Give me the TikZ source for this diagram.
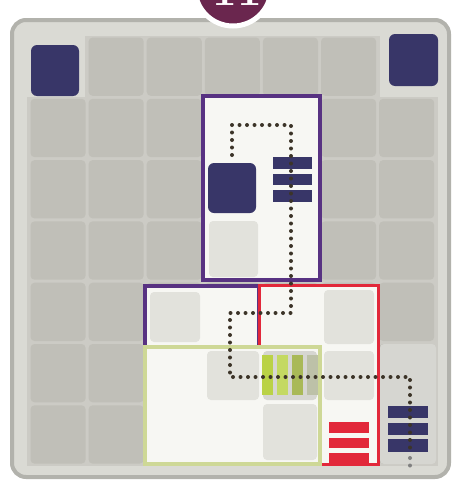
\documentclass[tikz,border=0pt]{standalone}
\usepackage{xcolor}
\definecolor{cardcol}{RGB}{218, 218, 212}
\definecolor{edgecol}{RGB}{178, 178, 172}
\definecolor{gapcol}{RGB}{204, 203, 197}
\definecolor{gridcol}{RGB}{192, 191, 184}
\definecolor{palecol}{RGB}{214, 214, 209}
\definecolor{navycol}{RGB}{56, 54, 104}
\definecolor{plumcol}{RGB}{88, 50, 130}
\definecolor{redcol}{RGB}{226, 40, 58}
\definecolor{limecol}{RGB}{186, 210, 70}
\definecolor{limeedge}{RGB}{206, 216, 150}
\definecolor{dotcol}{RGB}{60, 52, 40}
\definecolor{badgecol}{RGB}{106, 38, 78}
\definecolor{piececol}{RGB}{247, 247, 243}
\definecolor{ghostcol}{RGB}{226, 226, 220}
\usepackage{tikz}
\usetikzlibrary{positioning}

\begin{document}
\begin{tikzpicture}[x=1pt, y=-1pt,
  cell/.style={fill=gridcol, rounded corners=4pt},
  ghost/.style={fill=ghostcol, rounded corners=4pt},
  navybar/.style={fill=navycol},
  redbar/.style={fill=redcol},
  limebar/.style={fill=limecol},
  trail/.style={draw=dotcol, line width=4pt, line cap=round,
                dash pattern=on 0pt off 7.5pt}]
  \useasboundingbox (0,0) rectangle (461,490);
  \fill[white] (0,0) rectangle (461,490);

  \draw[fill=cardcol, draw=edgecol, line width=4pt, rounded corners=14pt]
        (12,20) rectangle (449,477);
  \fill[gapcol] (85,36) rectangle (380,97);
  \fill[gapcol] (27,97) rectangle (438,466);
  \foreach \i in {0,...,6}
    \foreach \j in {0,...,6} {
      \pgfmathsetmacro{\xa}{29+58.1*\i+1.5}
      \pgfmathsetmacro{\ya}{36+61.3*\j+1.5}
      \pgfmathsetmacro{\xb}{29+58.1*(\i+1)-1.5}
      \pgfmathsetmacro{\yb}{36+61.3*(\j+1)-1.5}
      \ifnum\j=0
        \ifnum\i=0\relax\else\ifnum\i=6\relax\else
          \fill[cell] (\xa,\ya) rectangle (\xb,\yb);
        \fi\fi
      \else
        \fill[cell] (\xa,\ya) rectangle (\xb,\yb);
      \fi
    }
  \fill[palecol, rounded corners=4pt] (380,344) rectangle (436,464);

  \fill[navycol, rounded corners=6pt] (31,45) rectangle (79,96);
  \fill[navycol, rounded corners=6pt] (389,34) rectangle (438,86);

  \draw[fill=badgecol, draw=white, line width=5pt] (233,-12) circle (38);
  \node[anchor=base, text=white, font=\fontsize{44}{44}\selectfont\bfseries]
        (num) at (237,5) {11};

  \draw[fill=piececol, draw=plumcol, line width=4pt] (203,96) rectangle (320,280);
  \fill[ghost] (209,221) rectangle (258,277);
  \fill[navycol, rounded corners=6pt] (208,163) rectangle (256,213);
  \draw[fill=piececol, draw=plumcol, line width=4pt]
        (145,347) -- (145,286) -- (259,286) -- (259,347);
  \fill[ghost] (150,292) rectangle (200,342);

  \draw[fill=piececol, draw=redcol, line width=3pt]
        (259,285) -- (378,285) -- (378,464) -- (320,464) -- (320,347) -- (259,347) -- cycle;
  \fill[ghost] (324,290) rectangle (374,344);
  \fill[ghost] (324,351) rectangle (374,400);

  \draw[fill=piececol, draw=limeedge, line width=3.5pt] (145,347) rectangle (320,464);
  \fill[ghost] (207,351) rectangle (259,400);
  \fill[palecol, rounded corners=4pt] (263,351) rectangle (317,400);
  \fill[ghost] (263,404) rectangle (317,460);

  \fill[limebar] (262,355) rectangle (273,395);
  \fill[limecol!85!white] (277,355) rectangle (288,395);
  \fill[limecol!70!gray] (292,355) rectangle (303,395);
  \fill[limecol!30!gray!60!white] (307,355) rectangle (318,395);

  \fill[navybar] (273,157) rectangle (312,169);
  \fill[navybar] (273,174) rectangle (312,185);
  \fill[navybar] (273,190) rectangle (312,202);

  \fill[redbar] (329,422) rectangle (369,433);
  \fill[redbar] (329,438) rectangle (369,448);
  \fill[redbar] (329,453) rectangle (369,463);

  \fill[navybar] (388,406) rectangle (428,418);
  \fill[navybar] (388,423) rectangle (428,435);
  \fill[navybar] (388,439) rectangle (428,452);

  \draw[trail] (232,155) -- (232,125) -- (291,125) -- (291,313)
        -- (230,313) -- (230,377) -- (410,377) -- (410,455);
  \draw[trail, draw=gray] (410,458) -- (410,470);
\end{tikzpicture}
\end{document}
